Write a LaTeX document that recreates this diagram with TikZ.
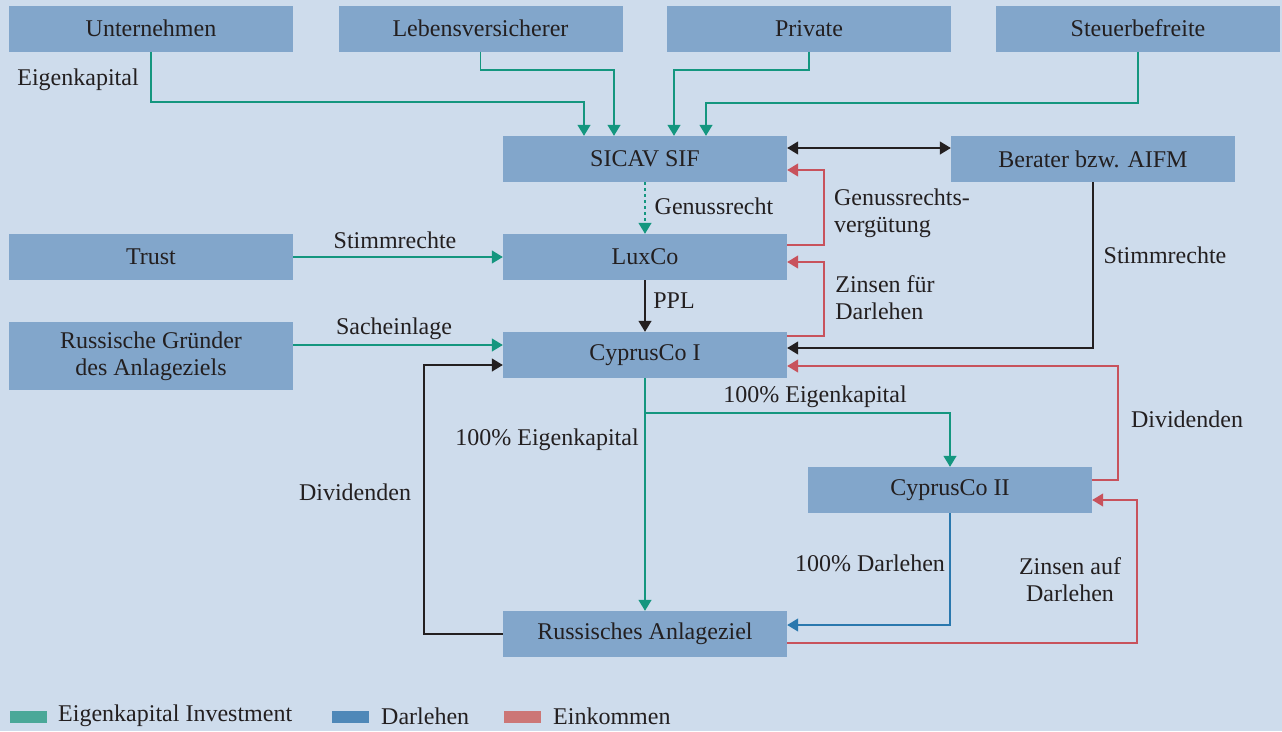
\documentclass[tikz,border=0pt]{standalone}
\usepackage{fontspec}
\setmainfont{Liberation Serif}
\usetikzlibrary{arrows.meta}
\definecolor{bgblue}{HTML}{CEDCEC}
\definecolor{boxblue}{HTML}{82A6CB}
\definecolor{txt}{HTML}{231F20}
\definecolor{eqline}{HTML}{14967F}
\definecolor{loanline}{HTML}{2A78AE}
\definecolor{incline}{HTML}{C8525C}
\definecolor{eqkey}{HTML}{4AA898}
\definecolor{loankey}{HTML}{4F88B8}
\definecolor{inckey}{HTML}{CC7676}
\begin{document}
\begin{tikzpicture}[x=1pt,y=-1pt,
  every node/.style={text=txt,font=\fontsize{24}{27}\selectfont},
  entity/.style={fill=boxblue,minimum width=284pt,minimum height=46pt,inner sep=0pt,align=center},
  tip/.style={-{Triangle[length=11pt,width=13pt]}},
  flow/.style={line width=1.3pt,tip},
  equity/.style={flow,draw=eqline},
  loan/.style={flow,draw=loanline},
  income/.style={flow,draw=incline},
  plain/.style={flow,draw=txt},
  lbl/.style={inner sep=0pt},
  key/.style={minimum width=37pt,minimum height=12pt,inner sep=0pt}]
\fill[bgblue] (0,0) rectangle (1282,731);
\useasboundingbox (0,0) rectangle (1282,731);

% investors
\node[entity] (unt) at (151,28.5) {Unternehmen};
\node[entity] (leb) at (480.5,28.5) {Lebensversicherer};
\node[entity] (pri) at (809,28.5) {Private};
\node[entity] (ste) at (1138,28.5) {Steuerbefreite};
% fund level
\node[entity] (sicav) at (645,159) {SICAV SIF};
\node[entity] (ber) at (1093,159) {Berater bzw. AIFM};
\node[entity] (trust) at (151,257) {Trust};
\node[entity] (lux) at (645,257) {LuxCo};
\node[entity,minimum height=68pt] (gr) at (151,356) {Russische Gründer\\des Anlageziels};
\node[entity] (cy1) at (645,355) {CyprusCo I};
\node[entity] (cy2) at (950,490) {CyprusCo II};
\node[entity] (anl) at (645,634) {Russisches Anlageziel};

% investor capital into the SICAV
\coordinate (k1) at (584,102);
\coordinate (k2) at (614,70);
\coordinate (k3) at (674,70);
\coordinate (k4) at (706,103);
\draw[equity] (unt.south) |- (k1) -- (k1 |- sicav.north);
\draw[equity] (leb.south) |- (k2) -- (k2 |- sicav.north);
\draw[equity] (pri.south) |- (k3) -- (k3 |- sicav.north);
\draw[equity] (ste.south) |- (k4) -- (k4 |- sicav.north);
\node[lbl] at (78,80) {Eigenkapital};

% SICAV and advisor
\draw[plain,{Triangle[length=11pt,width=13pt]}-{Triangle[length=11pt,width=13pt]}]
  ([yshift=11pt]sicav.east) -- ([yshift=11pt]ber.west);

% SICAV to LuxCo
\draw[equity,dash pattern=on 3pt off 3pt] (sicav.south) -- (lux.north);
\node[lbl] at (714,206) {Genussrecht};
\coordinate (r1) at (824,170);
\draw[income] ([yshift=12pt]lux.east) -| (r1) -- (r1 -| sicav.east);
\node[lbl,align=left] at (902,213) {Genussrechts-\\vergütung};

% Trust voting rights
\draw[equity] (trust.east) -- (lux.west);
\node[lbl] at (395,240) {Stimmrechte};

% LuxCo to CyprusCo I
\draw[plain] (lux.south) -- (cy1.north);
\node[lbl] at (674,301) {PPL};
\coordinate (r2) at (824,262);
\draw[income] ([yshift=19pt]cy1.east) -| (r2) -- (r2 -| lux.east);
\node[lbl,align=left] at (885,298) {Zinsen für\\Darlehen};

% advisor voting rights
\draw[plain] (ber.south) |- ([yshift=7pt]cy1.east);
\node[lbl] at (1165,255) {Stimmrechte};

% founders contribution in kind
\coordinate (s1) at ([yshift=10pt]cy1.west);
\draw[equity] (gr.east |- s1) -- (s1);
\node[lbl] at (394,329) {Sacheinlage};

% dividends from the target to CyprusCo I
\coordinate (d1) at (424,365);
\draw[plain] (anl.west) -| (d1) -- (d1 -| cy1.west);
\node[lbl] at (355,492) {Dividenden};

% CyprusCo I equity
\draw[equity] (cy1.south) -- (anl.north);
\node[lbl] at (547,440) {100\% Eigenkapital};
\coordinate (b1) at (645,413);
\draw[equity] (b1) -| (cy2.north);
\node[lbl] at (815,397) {100\% Eigenkapital};

% CyprusCo II flows
\coordinate (d2) at (1118,366);
\draw[income] ([yshift=10pt]cy2.east) -| (d2) -- (d2 -| cy1.east);
\node[lbl] at (1187,419) {Dividenden};
\draw[loan] (cy2.south) |- ([yshift=9pt]anl.east);
\node[lbl] at (870,563) {100\% Darlehen};
\coordinate (d3) at (1137,500);
\draw[income] ([yshift=-9pt]anl.east) -| (d3) -- (d3 -| cy2.east);
\node[lbl,align=center] at (1070,580) {Zinsen auf\\Darlehen};

% legend
\node[key,fill=eqkey] (ke) at (28,717) {};
\node[key,fill=loankey] (kl) at (350,717) {};
\node[key,fill=inckey] (ki) at (522.5,717) {};
\node[lbl,anchor=west] at (58,716) {Eigenkapital Investment};
\node[lbl,anchor=west] at (381,716) {Darlehen};
\node[lbl,anchor=west] at (553,716) {Einkommen};
\end{tikzpicture}
\end{document}
